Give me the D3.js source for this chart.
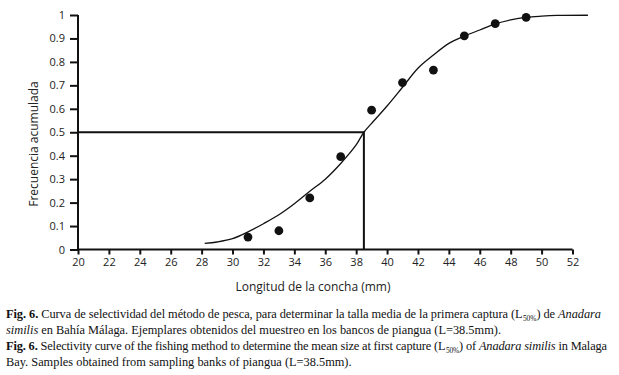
<!DOCTYPE html>
<html>
<head>
<meta charset="utf-8">
<script src="https://cdn.jsdelivr.net/npm/d3@7"></script>
<style>
  body { margin: 0; background: #fff; }
  .axis text { font-family: "Open Sans", sans-serif; font-size: 11px; fill: #222; }
  .caption { font-family: "Liberation Serif", "Times New Roman", serif; font-size: 12.5px; fill: #111; }
</style>
</head>
<body>
<div id="chart"></div>
<script>
// observed points (talla, frecuencia acumulada)
const lengths = [31, 33, 35, 37, 39, 41, 43, 45, 47, 49];
const cumFreq = [0.053, 0.08, 0.22, 0.396, 0.594, 0.712, 0.765, 0.911, 0.963, 0.99];

// fitted selectivity curve
const curveX = [28.2, 29, 30, 31, 32, 33, 34, 35, 36, 37, 38, 38.5, 39, 40, 41, 42, 43, 44, 45, 46, 47, 48, 49, 50, 51, 53];
const curveY = [0.026, 0.032, 0.046, 0.075, 0.11, 0.148, 0.195, 0.248, 0.3, 0.367, 0.446, 0.5, 0.538, 0.612, 0.692, 0.773, 0.829, 0.879, 0.91, 0.936, 0.962, 0.979, 0.99, 0.995, 0.998, 0.999];

const L50 = 38.5;
const xTicks = d3.range(20, 53, 2);
const yTicks = [0, 0.1, 0.2, 0.3, 0.4, 0.5, 0.6, 0.7, 0.8, 0.9, 1];

const width = 619, height = 375;
const svg = d3.select('#chart').append('svg')
    .attr('width', width)
    .attr('height', height);

const x = d3.scaleLinear().domain([20, 52]).range([78, 572.5]);
const y = d3.scaleLinear().domain([0, 1]).range([249.5, 15]);

// axes
const xAxis = svg.append('g')
    .attr('class', 'axis x-axis')
    .attr('transform', `translate(0,${y(0)})`)
    .call(d3.axisBottom(x).tickValues(xTicks).tickSize(5).tickPadding(4).tickFormat(d3.format('d')));
const yAxis = svg.append('g')
    .attr('class', 'axis y-axis')
    .attr('transform', `translate(${x(20)},0)`)
    .call(d3.axisLeft(y).tickValues(yTicks).tickSize(8).tickPadding(5).tickFormat(d => d));

svg.selectAll('.axis .domain').attr('stroke', '#111').attr('stroke-width', 2);
svg.selectAll('.axis .tick line').attr('stroke', '#111').attr('stroke-width', 2);
xAxis.select('.domain').attr('d', `M${x(20)},0H${x(52)}`);
yAxis.select('.domain').attr('d', `M0,${y(1)}V${y(0)}`);

// L50 guide
svg.append('path')
    .attr('d', `M${x(20)},${y(0.5)}H${x(L50)}V${y(0)}`)
    .attr('fill', 'none')
    .attr('stroke', '#111')
    .attr('stroke-width', 2);

// fitted curve
const line = d3.line()
    .x(d => x(d))
    .y((d, i) => y(curveY[i]))
    .curve(d3.curveCatmullRom.alpha(0.5));
svg.append('path')
    .datum(curveX)
    .attr('d', line)
    .attr('fill', 'none')
    .attr('stroke', '#111')
    .attr('stroke-width', 1.3);

// points
svg.selectAll('.dot')
    .data(lengths)
    .join('circle')
    .attr('class', 'dot')
    .attr('cx', d => x(d))
    .attr('cy', (d, i) => y(cumFreq[i]))
    .attr('r', 4.4)
    .attr('fill', '#111');

// axis labels
svg.append('text')
    .attr('x', 313)
    .attr('y', 291)
    .attr('text-anchor', 'middle')
    .style('font-family', '"Open Sans", sans-serif')
    .style('font-size', '12px')
    .attr('fill', '#222')
    .text('Longitud de la concha (mm)');

svg.append('text')
    .attr('transform', 'rotate(-90)')
    .attr('x', -144)
    .attr('y', 38)
    .attr('text-anchor', 'middle')
    .style('font-family', '"Open Sans", sans-serif')
    .style('font-size', '12px')
    .attr('fill', '#222')
    .text('Frecuencia acumulada');

// caption (condensed serif, first and third lines justified)
const cap = svg.append('g').attr('class', 'caption');

function sub(t) {
    t.append('tspan').attr('font-size', '7.5px').attr('dx', 0.5).attr('dy', 3).text('50%');
}

const l1 = cap.append('text').attr('class', 'caption').attr('y', 318);
l1.append('tspan').attr('font-weight', 'bold').text('Fig. 6.');
l1.append('tspan').text(' Curva de selectividad del método de pesca, para determinar la talla media de la primera captura (L');
sub(l1);
l1.append('tspan').attr('dy', -3).text(') de ');
l1.append('tspan').attr('font-style', 'italic').text('Anadara');

const l2 = cap.append('text').attr('class', 'caption').attr('y', 334);
l2.append('tspan').attr('font-style', 'italic').text('similis');
l2.append('tspan').text(' en Bahía Málaga. Ejemplares obtenidos del muestreo en los bancos de piangua (L=38.5mm).');

const l3 = cap.append('text').attr('class', 'caption').attr('y', 350);
l3.append('tspan').attr('font-weight', 'bold').text('Fig. 6.');
l3.append('tspan').text(' Selectivity curve of the fishing method to determine the mean size at first capture (L');
sub(l3);
l3.append('tspan').attr('dy', -3).text(') of ');
l3.append('tspan').attr('font-style', 'italic').text('Anadara similis');
l3.append('tspan').text(' in Malaga');

const l4 = cap.append('text').attr('class', 'caption').attr('y', 366);
l4.append('tspan').text('Bay. Samples obtained from sampling banks of piangua (L=38.5mm).');

// horizontal squeeze taken from the last (unjustified) line
const k = 346 / l4.node().getComputedTextLength();
cap.attr('transform', `scale(${k},1)`);
[l1, l2, l3, l4].forEach(t => t.attr('x', 6 / k));
l1.attr('textLength', 595 / k).attr('lengthAdjust', 'spacing');
l3.attr('textLength', 601 / k).attr('lengthAdjust', 'spacing');
</script>
</body>
</html>
